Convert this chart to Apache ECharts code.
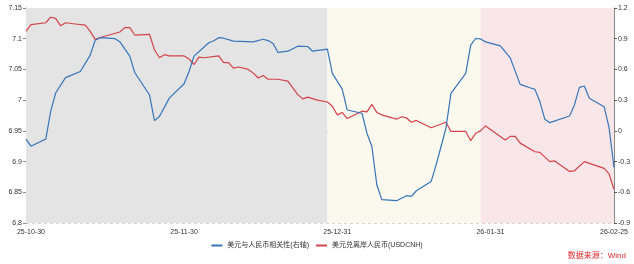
<!DOCTYPE html>
<html lang="zh">
<head>
    <meta charset="UTF-8">
    <title>美元与人民币</title>
    <style>
        html, body { margin: 0; padding: 0; background: #fff; }
    </style>
</head>
<body>
    <div id="main" style="width: 634px;height:264px;"></div>
    <script src="https://cdn.jsdelivr.net/npm/echarts@6/dist/echarts.min.js"></script>
    <script>

// 美元与人民币相关性(右轴)
var corrDates = ['2025-10-29','2025-10-30','2025-11-02','2025-11-03','2025-11-04','2025-11-06','2025-11-09','2025-11-11',
    '2025-11-12','2025-11-13','2025-11-16','2025-11-17','2025-11-19','2025-11-20','2025-11-23','2025-11-24','2025-11-25',
    '2025-11-27','2025-11-30','2025-12-01','2025-12-02','2025-12-05','2025-12-06','2025-12-07','2025-12-08','2025-12-10',
    '2025-12-14','2025-12-16','2025-12-17','2025-12-18','2025-12-19','2025-12-21','2025-12-23','2025-12-25','2025-12-26',
    '2025-12-29','2025-12-30','2026-01-01','2026-01-02','2026-01-05','2026-01-06','2026-01-07','2026-01-08','2026-01-09',
    '2026-01-12','2026-01-14','2026-01-15','2026-01-16','2026-01-19','2026-01-20','2026-01-21','2026-01-22','2026-01-23',
    '2026-01-26','2026-01-27','2026-01-28','2026-01-29','2026-01-30','2026-02-02','2026-02-04','2026-02-06','2026-02-08',
    '2026-02-09','2026-02-10','2026-02-11','2026-02-12','2026-02-16','2026-02-17','2026-02-18','2026-02-19','2026-02-20',
    '2026-02-23','2026-02-24','2026-02-25'];
var corrValues = [-0.08,-0.15,-0.08,0.19,0.37,0.52,0.58,0.74,
    0.885,0.91,0.90,0.87,0.73,0.57,0.35,0.10,0.14,
    0.32,0.46,0.58,0.73,0.86,0.88,0.91,0.905,0.876,
    0.869,0.895,0.882,0.853,0.766,0.778,0.827,0.824,0.778,
    0.798,0.561,0.408,0.204,0.172,-0.023,-0.153,-0.526,-0.672,
    -0.682,-0.633,-0.64,-0.585,-0.494,-0.332,-0.153,0.03,0.366,
    0.561,0.837,0.902,0.898,0.869,0.83,0.713,0.454,0.421,
    0.405,0.285,0.113,0.08,0.145,0.253,0.425,0.438,0.318,
    0.236,0.032,-0.358];

// 美元兑离岸人民币(USDCNH)
var cnhDates = ['2025-10-29','2025-10-30','2025-11-02','2025-11-03','2025-11-04','2025-11-05','2025-11-06','2025-11-08',
    '2025-11-10','2025-11-11','2025-11-12','2025-11-13','2025-11-17','2025-11-18','2025-11-19','2025-11-20','2025-11-23',
    '2025-11-24','2025-11-25','2025-11-26','2025-11-27','2025-11-30','2025-12-01','2025-12-02','2025-12-03','2025-12-04',
    '2025-12-07','2025-12-08','2025-12-09','2025-12-10','2025-12-11','2025-12-13','2025-12-14','2025-12-15','2025-12-16',
    '2025-12-17','2025-12-19','2025-12-21','2025-12-23','2025-12-24','2025-12-25','2025-12-27','2025-12-29','2025-12-30',
    '2025-12-31','2026-01-01','2026-01-02','2026-01-05','2026-01-06','2026-01-07','2026-01-08','2026-01-09','2026-01-12',
    '2026-01-13','2026-01-14','2026-01-15','2026-01-16','2026-01-19','2026-01-22','2026-01-23','2026-01-26','2026-01-27',
    '2026-01-28','2026-01-29','2026-01-30','2026-02-03','2026-02-04','2026-02-05','2026-02-06','2026-02-09','2026-02-10',
    '2026-02-12','2026-02-13','2026-02-16','2026-02-17','2026-02-19','2026-02-23','2026-02-24','2026-02-25'];
var cnhValues = [7.112,7.123,7.126,7.135,7.133,7.121,7.126,7.124,
    7.122,7.112,7.099,7.102,7.111,7.118,7.118,7.106,7.107,
    7.082,7.069,7.074,7.072,7.072,7.067,7.058,7.070,7.069,
    7.072,7.061,7.061,7.052,7.054,7.050,7.044,7.036,7.040,
    7.034,7.034,7.031,7.009,7.002,7.005,7.000,6.997,6.990,
    6.976,6.980,6.970,6.982,6.981,6.993,6.980,6.976,6.969,
    6.973,6.971,6.964,6.967,6.955,6.964,6.949,6.949,6.934,
    6.946,6.950,6.958,6.935,6.941,6.941,6.930,6.916,6.915,
    6.900,6.901,6.884,6.885,6.900,6.889,6.880,6.855];

// x轴显示的日期
var tickDates = ['2025-10-30','2025-11-30','2025-12-31','2026-01-31','2026-02-25'];
// 三段背景
var periods = [
    ['2025-10-29','2025-12-29','#e4e4e4'],
    ['2025-12-29','2026-01-29','#fbf8ee'],
    ['2026-01-29','2026-02-25','#f9e6e8']
];

var font = 'Liberation Sans, Arial, Noto Sans CJK SC, sans-serif';

function toTime(s) {
    var p = s.split('-');
    return new Date(+p[0], +p[1] - 1, +p[2]).getTime();
}
function pad(n) { return n < 10 ? '0' + n : '' + n; }
function zip(dates, vals) {
    return dates.map(function (d, i) { return [toTime(d), vals[i]]; });
}
var tickTimes = tickDates.map(toTime);

var option = {
    animation: false,
    grid: { left: 26, right: 20, top: 8, bottom: 41 },
    legend: {
        bottom: 10,
        left: 'center',
        itemWidth: 11,
        itemHeight: 2,
        itemGap: 7,
        icon: 'rect',
        textStyle: { fontSize: 7, color: '#333', fontFamily: font },
        data: ['美元与人民币相关性(右轴)', '美元兑离岸人民币(USDCNH)']
    },
    graphic: [{
        type: 'text',
        right: 8,
        bottom: 4,
        style: { text: '数据来源：Wind', fill: '#e0262b', fontSize: 8, fontFamily: font }
    }],
    xAxis: {
        // 用数值轴放时间戳, 方便自定义刻度
        type: 'value',
        min: toTime('2025-10-29'),
        max: toTime('2026-02-25'),
        splitLine: { show: false },
        axisLine: { lineStyle: { color: '#888' } },
        axisTick: { customValues: tickTimes, length: 4, lineStyle: { color: '#888' } },
        axisLabel: {
            customValues: tickTimes,
            fontSize: 7,
            color: '#333',
            fontFamily: font,
            margin: 6,
            formatter: function (v) {
                var d = new Date(v);
                return pad(d.getFullYear() % 100) + '-' + pad(d.getMonth() + 1) + '-' + pad(d.getDate());
            }
        }
    },
    yAxis: [
        {
            type: 'value',
            min: 6.8,
            max: 7.15,
            interval: 0.05,
            axisLine: { show: true, lineStyle: { color: '#888' } },
            axisTick: { show: true, length: 3, lineStyle: { color: '#888' } },
            axisLabel: { fontSize: 7, color: '#333', fontFamily: font, margin: 4 },
            splitLine: { show: true, lineStyle: { color: '#d6d6d6', type: [3, 3] } }
        },
        {
            type: 'value',
            min: -0.9,
            max: 1.2,
            interval: 0.3,
            axisLine: { show: true, lineStyle: { color: '#888' } },
            axisTick: { show: true, length: 3, lineStyle: { color: '#555' } },
            axisLabel: { fontSize: 7, color: '#333', fontFamily: font, margin: 4 },
            splitLine: { show: false }
        }
    ],
    series: [
        {
            name: '美元兑离岸人民币(USDCNH)',
            type: 'line',
            yAxisIndex: 0,
            symbol: 'none',
            color: '#d4434b',
            lineStyle: { width: 1.2 },
            data: zip(cnhDates, cnhValues),
            markArea: {
                silent: true,
                data: periods.map(function (p) {
                    return [{ xAxis: toTime(p[0]), itemStyle: { color: p[2] } }, { xAxis: toTime(p[1]) }];
                })
            }
        },
        {
            name: '美元与人民币相关性(右轴)',
            type: 'line',
            yAxisIndex: 1,
            symbol: 'none',
            color: '#3674b8',
            lineStyle: { width: 1.2 },
            data: zip(corrDates, corrValues)
        }
    ]
};

var myChart = echarts.init(document.getElementById('main'));
myChart.setOption(option);

    </script>
</body>
</html>
